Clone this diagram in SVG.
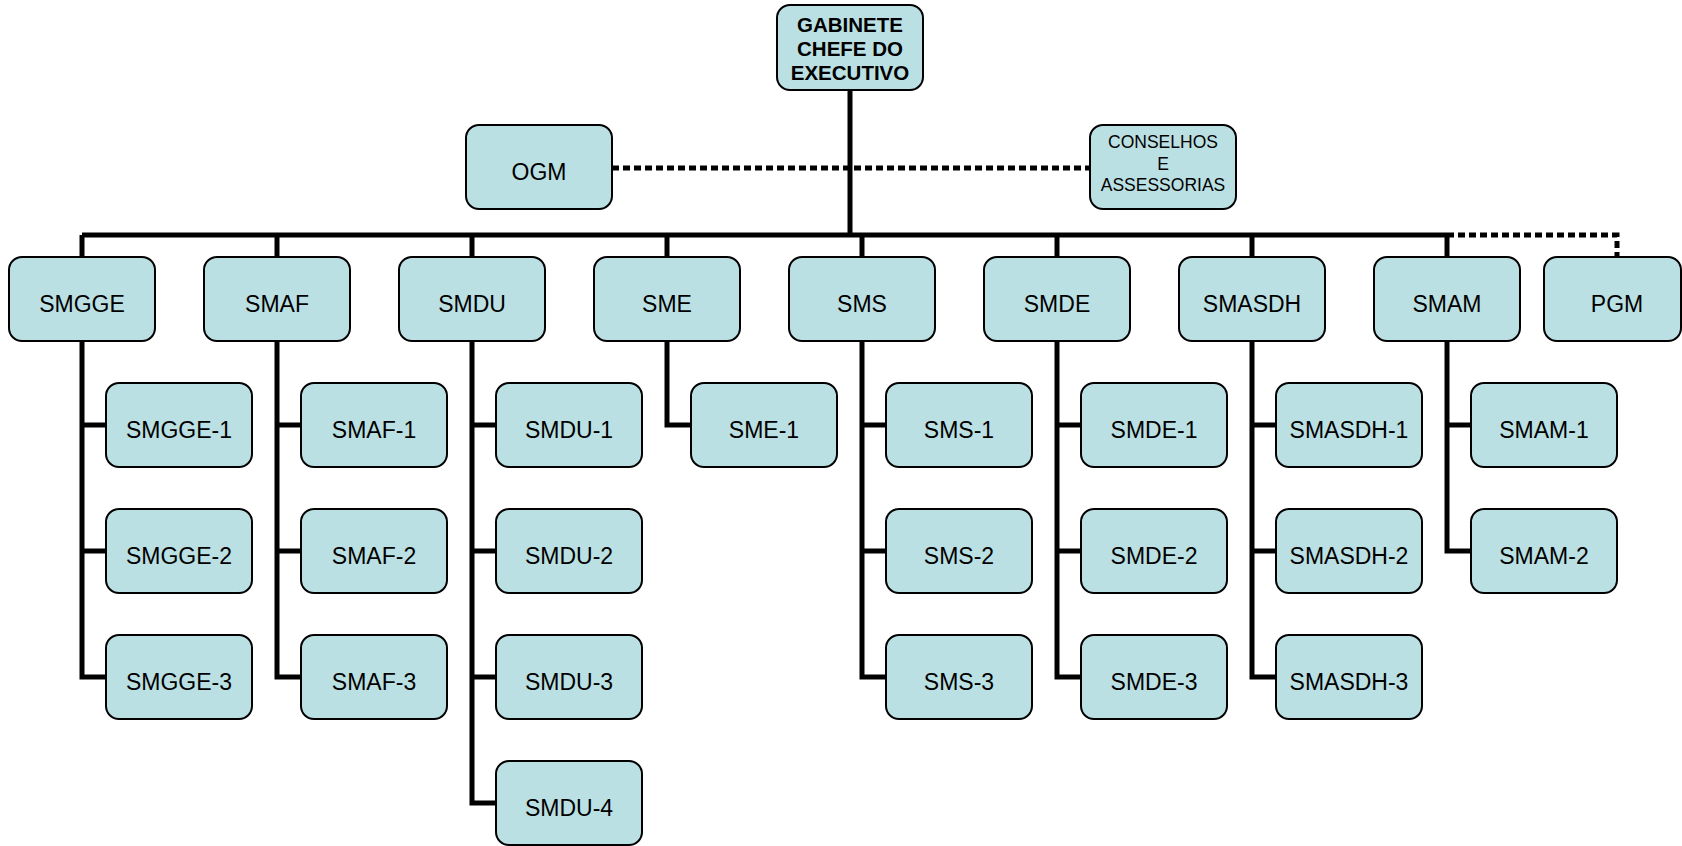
<svg xmlns="http://www.w3.org/2000/svg" width="1682" height="846" viewBox="0 0 1682 846">
  <style>
    .box { fill: #BBE0E3; stroke: #000; stroke-width: 2; }
    .t { font-family: "Liberation Sans", Arial, sans-serif; font-size: 23px; text-anchor: middle; fill: #000; }
    .head { font-family: "Liberation Sans", Arial, sans-serif; font-size: 20.5px; font-weight: bold; text-anchor: middle; fill: #000; }
    .small { font-family: "Liberation Sans", Arial, sans-serif; font-size: 17.5px; text-anchor: middle; fill: #000; }
    .solid { fill: none; stroke: #000; stroke-width: 5; stroke-linejoin: miter; stroke-linecap: butt; }
    .dotted { fill: none; stroke: #000; stroke-width: 5; stroke-dasharray: 7 4; }
  </style>

  <!-- connectors -->
  <g id="connectors">
    <!-- trunk and main bus -->
    <path class="solid" d="M850 90 V235"/>
    <path class="solid" d="M82 235 H1447"/>
    <!-- drops to secretariats -->
    <path class="solid" d="M82 235 V257 M277 235 V257 M472 235 V257 M667 235 V257 M862 235 V257 M1057 235 V257 M1252 235 V257 M1447 235 V257"/>
    <!-- advisory links -->
    <path class="dotted" d="M612 168 H1090"/>
    <path class="dotted" d="M1447 235 H1617 V257"/>
    <!-- SMGGE -->
    <path class="solid" d="M82 341 V677 H106 M82 425 H106 M82 551 H106"/>
    <!-- SMAF -->
    <path class="solid" d="M277 341 V677 H301 M277 425 H301 M277 551 H301"/>
    <!-- SMDU -->
    <path class="solid" d="M472 341 V803 H496 M472 425 H496 M472 551 H496 M472 677 H496"/>
    <!-- SME -->
    <path class="solid" d="M667 341 V425 H691"/>
    <!-- SMS -->
    <path class="solid" d="M862 341 V677 H886 M862 425 H886 M862 551 H886"/>
    <!-- SMDE -->
    <path class="solid" d="M1057 341 V677 H1081 M1057 425 H1081 M1057 551 H1081"/>
    <!-- SMASDH -->
    <path class="solid" d="M1252 341 V677 H1276 M1252 425 H1276 M1252 551 H1276"/>
    <!-- SMAM -->
    <path class="solid" d="M1447 341 V551 H1471 M1447 425 H1471"/>
  </g>

  <!-- top -->
  <g id="gabinete">
    <rect class="box" x="777" y="5" width="146" height="85" rx="13"/>
    <text class="head" x="850" y="32">GABINETE</text>
    <text class="head" x="850" y="56">CHEFE DO</text>
    <text class="head" x="850" y="80">EXECUTIVO</text>
  </g>
  <g id="ogm">
    <rect class="box" x="466" y="125" width="146" height="84" rx="13"/>
    <text class="t" x="539" y="180">OGM</text>
  </g>
  <g id="conselhos">
    <rect class="box" x="1090" y="125" width="146" height="84" rx="13"/>
    <text class="small" x="1163" y="148">CONSELHOS</text>
    <text class="small" x="1163" y="170">E</text>
    <text class="small" x="1163" y="191">ASSESSORIAS</text>
  </g>

  <!-- secretariats -->
  <g id="smgge"><rect class="box" x="9" y="257" width="146" height="84" rx="13"/><text class="t" x="82" y="312">SMGGE</text></g>
  <g id="smaf"><rect class="box" x="204" y="257" width="146" height="84" rx="13"/><text class="t" x="277" y="312">SMAF</text></g>
  <g id="smdu"><rect class="box" x="399" y="257" width="146" height="84" rx="13"/><text class="t" x="472" y="312">SMDU</text></g>
  <g id="sme"><rect class="box" x="594" y="257" width="146" height="84" rx="13"/><text class="t" x="667" y="312">SME</text></g>
  <g id="sms"><rect class="box" x="789" y="257" width="146" height="84" rx="13"/><text class="t" x="862" y="312">SMS</text></g>
  <g id="smde"><rect class="box" x="984" y="257" width="146" height="84" rx="13"/><text class="t" x="1057" y="312">SMDE</text></g>
  <g id="smasdh"><rect class="box" x="1179" y="257" width="146" height="84" rx="13"/><text class="t" x="1252" y="312">SMASDH</text></g>
  <g id="smam"><rect class="box" x="1374" y="257" width="146" height="84" rx="13"/><text class="t" x="1447" y="312">SMAM</text></g>
  <g id="pgm"><rect class="box" x="1544" y="257" width="137" height="84" rx="13"/><text class="t" x="1617" y="312">PGM</text></g>

  <!-- SMGGE units -->
  <g id="smgge-1"><rect class="box" x="106" y="383" width="146" height="84" rx="13"/><text class="t" x="179" y="438">SMGGE-1</text></g>
  <g id="smgge-2"><rect class="box" x="106" y="509" width="146" height="84" rx="13"/><text class="t" x="179" y="564">SMGGE-2</text></g>
  <g id="smgge-3"><rect class="box" x="106" y="635" width="146" height="84" rx="13"/><text class="t" x="179" y="690">SMGGE-3</text></g>

  <!-- SMAF units -->
  <g id="smaf-1"><rect class="box" x="301" y="383" width="146" height="84" rx="13"/><text class="t" x="374" y="438">SMAF-1</text></g>
  <g id="smaf-2"><rect class="box" x="301" y="509" width="146" height="84" rx="13"/><text class="t" x="374" y="564">SMAF-2</text></g>
  <g id="smaf-3"><rect class="box" x="301" y="635" width="146" height="84" rx="13"/><text class="t" x="374" y="690">SMAF-3</text></g>

  <!-- SMDU units -->
  <g id="smdu-1"><rect class="box" x="496" y="383" width="146" height="84" rx="13"/><text class="t" x="569" y="438">SMDU-1</text></g>
  <g id="smdu-2"><rect class="box" x="496" y="509" width="146" height="84" rx="13"/><text class="t" x="569" y="564">SMDU-2</text></g>
  <g id="smdu-3"><rect class="box" x="496" y="635" width="146" height="84" rx="13"/><text class="t" x="569" y="690">SMDU-3</text></g>
  <g id="smdu-4"><rect class="box" x="496" y="761" width="146" height="84" rx="13"/><text class="t" x="569" y="816">SMDU-4</text></g>

  <!-- SME units -->
  <g id="sme-1"><rect class="box" x="691" y="383" width="146" height="84" rx="13"/><text class="t" x="764" y="438">SME-1</text></g>

  <!-- SMS units -->
  <g id="sms-1"><rect class="box" x="886" y="383" width="146" height="84" rx="13"/><text class="t" x="959" y="438">SMS-1</text></g>
  <g id="sms-2"><rect class="box" x="886" y="509" width="146" height="84" rx="13"/><text class="t" x="959" y="564">SMS-2</text></g>
  <g id="sms-3"><rect class="box" x="886" y="635" width="146" height="84" rx="13"/><text class="t" x="959" y="690">SMS-3</text></g>

  <!-- SMDE units -->
  <g id="smde-1"><rect class="box" x="1081" y="383" width="146" height="84" rx="13"/><text class="t" x="1154" y="438">SMDE-1</text></g>
  <g id="smde-2"><rect class="box" x="1081" y="509" width="146" height="84" rx="13"/><text class="t" x="1154" y="564">SMDE-2</text></g>
  <g id="smde-3"><rect class="box" x="1081" y="635" width="146" height="84" rx="13"/><text class="t" x="1154" y="690">SMDE-3</text></g>

  <!-- SMASDH units -->
  <g id="smasdh-1"><rect class="box" x="1276" y="383" width="146" height="84" rx="13"/><text class="t" x="1349" y="438">SMASDH-1</text></g>
  <g id="smasdh-2"><rect class="box" x="1276" y="509" width="146" height="84" rx="13"/><text class="t" x="1349" y="564">SMASDH-2</text></g>
  <g id="smasdh-3"><rect class="box" x="1276" y="635" width="146" height="84" rx="13"/><text class="t" x="1349" y="690">SMASDH-3</text></g>

  <!-- SMAM units -->
  <g id="smam-1"><rect class="box" x="1471" y="383" width="146" height="84" rx="13"/><text class="t" x="1544" y="438">SMAM-1</text></g>
  <g id="smam-2"><rect class="box" x="1471" y="509" width="146" height="84" rx="13"/><text class="t" x="1544" y="564">SMAM-2</text></g>
</svg>
